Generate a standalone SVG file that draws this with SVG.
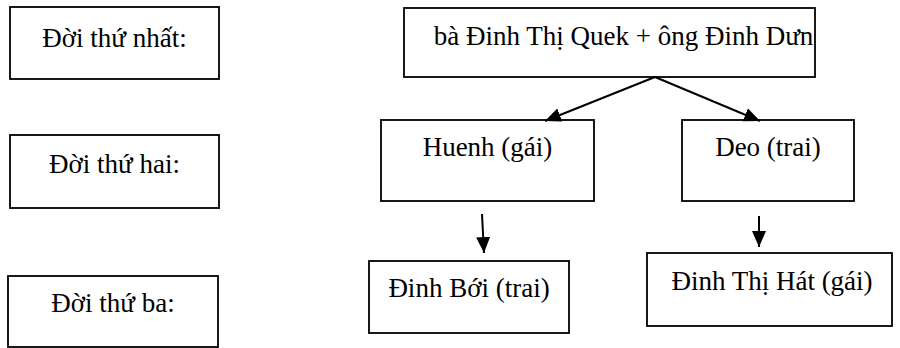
<svg xmlns="http://www.w3.org/2000/svg" width="900" height="348" viewBox="0 0 900 348">
<style>
.box{fill:#fff;stroke:#000;stroke-width:1.8}
.t{font-size:27px;fill:#000;text-anchor:middle}
.c{stroke:#000;stroke-width:2;fill:none}
</style>
<defs>
<marker id="ah" markerUnits="userSpaceOnUse" markerWidth="18" markerHeight="16" refX="16" refY="7" orient="auto">
<path d="M0,0 L16,7 L0,14 Z" fill="#000"/>
</marker>
</defs>
<rect width="900" height="348" fill="#fff"/>
<g id="gen1"><rect class="box" x="10" y="7" width="209" height="72"/><text class="t" font-family="'Liberation Serif', 'Times New Roman', serif" x="114.5" y="47">Đời thứ nhất:</text></g>
<g id="gen2"><rect class="box" x="10" y="135" width="209" height="73"/><text class="t" font-family="'Liberation Serif', 'Times New Roman', serif" x="114.5" y="173">Đời thứ hai:</text></g>
<g id="gen3"><rect class="box" x="8" y="276" width="210" height="71"/><text class="t" font-family="'Liberation Serif', 'Times New Roman', serif" x="113" y="312">Đời thứ ba:</text></g>
<g id="parents"><rect class="box" x="404" y="8" width="411" height="69"/><text class="t" font-family="'Liberation Serif', 'Times New Roman', serif" x="623.5" y="45">bà Đinh Thị Quek + ông Đinh Dưn</text></g>
<g id="huenh"><rect class="box" x="381" y="120" width="213" height="81"/><text class="t" font-family="'Liberation Serif', 'Times New Roman', serif" x="487.5" y="156">Huenh (gái)</text></g>
<g id="deo"><rect class="box" x="682" y="120" width="172" height="81"/><text class="t" font-family="'Liberation Serif', 'Times New Roman', serif" x="768" y="156">Deo (trai)</text></g>
<g id="boi"><rect class="box" x="369" y="261" width="200" height="72"/><text class="t" font-family="'Liberation Serif', 'Times New Roman', serif" x="469" y="297">Đinh Bới (trai)</text></g>
<g id="hat"><rect class="box" x="647" y="253" width="245" height="73"/><text class="t" font-family="'Liberation Serif', 'Times New Roman', serif" x="772" y="290">Đinh Thị Hát (gái)</text></g>
<g id="connectors">
<line class="c" x1="655" y1="77" x2="545" y2="121" marker-end="url(#ah)"/>
<line class="c" x1="655" y1="77" x2="760" y2="121" marker-end="url(#ah)"/>
<line class="c" x1="482" y1="214" x2="484" y2="253" marker-end="url(#ah)"/>
<line class="c" x1="759" y1="216" x2="759" y2="247" marker-end="url(#ah)"/>
</g>
</svg>
